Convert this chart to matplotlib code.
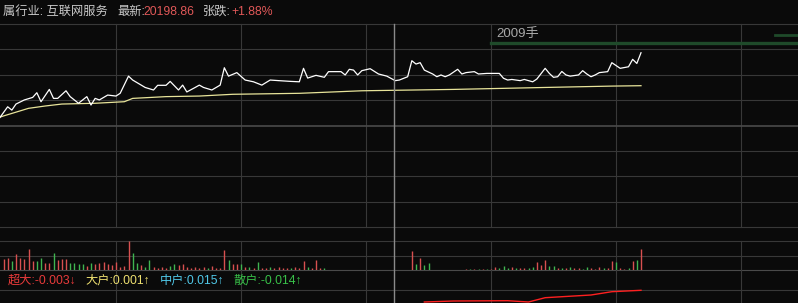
import matplotlib.pyplot as plt
import matplotlib.transforms as mtransforms
from matplotlib.lines import Line2D

plt.rcParams['font.family'] = ['Liberation Sans', 'Noto Sans CJK SC', 'DejaVu Sans']

# ---- data ----
industry = '互联网服务'
last_price = 20198.86
change_text = '+1.88%'
prev_close = 19826.1

price_minutes = [2, 4, 5, 6, 8, 10, 11, 12, 14, 15, 16, 18, 19, 21, 23, 24, 25, 26, 28, 30,
                 31, 33, 34, 37, 39, 40, 42, 43, 45, 46, 47, 49, 50, 51, 53, 55, 56, 57, 59, 61,
                 63, 65, 67, 69, 72, 74, 75, 76, 78, 80, 81, 84, 85, 86, 87, 88, 89, 91, 93, 95,
                 97, 98, 100, 101, 102, 103, 104, 106, 107, 108, 109, 110, 112, 113, 114, 116, 117, 119, 122, 123,
                 124, 125, 127, 128, 130, 131, 133, 134, 135, 136, 137, 138, 139, 141, 142, 143, 144, 145, 146, 148,
                 149, 151, 153, 154, 155, 156]
price_values = [19863, 19922, 19905, 19936, 19957, 19970, 19994, 19948, 20011, 19965,
                19965, 20004, 19974, 19940, 19974, 19931, 19965, 19957, 19982, 19977,
                19991, 20079, 20059, 20021, 20008, 20032, 20032, 20052, 20008, 20033,
                19998, 20021, 20033, 20021, 20008, 20033, 20122, 20079, 20097, 20059,
                20050, 20033, 20059, 20056, 20052, 20050, 20119, 20069, 20083, 20073,
                20102, 20102, 20085, 20114, 20110, 20085, 20107, 20117, 20090, 20079,
                20056, 20059, 20076, 20158, 20141, 20148, 20110, 20090, 20076, 20085,
                20076, 20085, 20114, 20090, 20097, 20102, 20090, 20093, 20093, 20068,
                20059, 20062, 20056, 20062, 20050, 20064, 20119, 20093, 20073, 20076,
                20103, 20085, 20079, 20085, 20107, 20090, 20076, 20085, 20097, 20102,
                20148, 20119, 20127, 20165, 20144, 20198.86]

avg_minutes = [2, 3, 5, 9, 13, 17, 25, 32, 34, 42, 50, 58, 74, 89, 111, 133, 149, 156]
avg_values = [19868, 19875, 19888, 19914, 19926, 19936, 19940, 19948, 19965, 19974,
              19977, 19986, 19991, 20004, 20011, 20021, 20028, 20030]

vol_minutes = list(range(3, 81)) + list(range(101, 106)) + list(range(114, 157))
volumes = [34, 37, 27, 47, 37, 32, 62, 27, 27, 37, 22, 22, 50, 30, 34, 34, 22, 20, 17, 17,
           12, 22, 17, 20, 24, 19, 14, 24, 10, 12, 87, 50, 22, 14, 10, 30, 10, 7,
           10, 7, 12, 17, 14, 17, 10, 7, 10, 5, 10, 7, 12, 7, 7, 60, 30, 17, 17, 17,
           10, 10, 7, 24, 7, 7, 10, 7, 10, 7, 7, 7, 10, 7, 27, 10, 7, 30, 5, 7,
           57, 17, 37, 14, 22,
           4, 4, 4, 4,
           4, 4, 4, 10, 7, 12, 7, 10, 7, 7, 7, 7, 10, 24, 14, 30, 12, 12, 7, 7,
           7, 10, 7, 7, 4, 10, 7, 4, 10, 7, 7, 27, 24, 7, 4, 7, 27, 30, 64]
vol_dirs = ('rrgrrrrrggrrgrrrggggrgrrrrrrrrrggrggrr'
            'rrggrrrrrrrgrrrrgrrgrgrgrrgrrrrgrrrgrrrg'
            'rgrgg'
            'rgrg'
            'rgrrgggrgrrggrrrggrgrgrrggrrrgrrgrrgrgr')

flow_minutes = [104, 111, 124, 129, 133, 144, 149, 156]
flow_values = [-12, -11, -10.7, -12, -7.7, -5, -1.7, -0.3]

flow_labels = ['超大', '大户', '中户', '散户']
flow_numbers = ['-0.003', '0.001', '0.015', '-0.014']
flow_arrows = ['↓', '↑', '↑', '↑']
flow_colors = ['#e83a3a', '#eee070', '#50c8e8', '#38c048']

order_text = '2009手'
cursor_minute = 96.8

# ---- style ----
BG = '#0a0a0a'
GRID = '#383838'
RED = '#d85050'
GREEN = '#40b450'
W, H = 798, 303
px_per_min = 125 / 30


def box(top, bottom):
    return [0, 1 - bottom / H, 1, (bottom - top) / H]


x_left = 9 / px_per_min
x_right = (W + 9) / px_per_min
step = 130

fig = plt.figure(figsize=(W / 100, H / 100), dpi=100, facecolor=BG)

ax = fig.add_axes(box(24, 227))
ax_vol = fig.add_axes(box(241, 270))
ax_flow = fig.add_axes(box(270, 303))
for a in (ax, ax_vol, ax_flow):
    a.set_facecolor(BG)
    a.set_xlim(x_left, x_right)
    a.axis('off')
    for m in range(30, 200, 30):
        a.axvline(m, color=GRID, lw=0.8, clip_on=False, zorder=0)

# price panel
ax.set_ylim(prev_close - 4 * step, prev_close + 4 * step)
for k in range(-4, 5):
    ax.axhline(prev_close + k * step, color='#4a4a4a' if k == 0 else GRID,
               lw=1.2 if k == 0 else 0.8, clip_on=False, zorder=0)
ax.plot(avg_minutes, avg_values, color='#e8e49a', lw=0.9, zorder=3)
ax.plot(price_minutes, price_values, color='white', lw=0.9, zorder=4)

# order book bar at top right
tr = mtransforms.blended_transform_factory(ax.transData, ax.transAxes)
ax.plot([120, x_right], [0.904, 0.904], color='#1f4a2a', lw=2.4, transform=tr, clip_on=False)
ax.plot([188.2, x_right], [0.948, 0.948], color='#1f4a2a', lw=2.0, transform=tr, clip_on=False)
ax.text(121.3, 0.951, order_text, transform=tr, color='#a8a8a8', fontsize=9.5,
        va='center', ha='left')

# volume panel
vmax = max(volumes)
ax_vol.set_ylim(0, vmax)
for y in (0, vmax / 2, vmax):
    ax_vol.axhline(y, color='#4a4a4a' if y == 0 else GRID, lw=0.8, clip_on=False, zorder=0)
ax_vol.vlines(vol_minutes, 0, volumes,
              colors=[RED if d == 'r' else GREEN for d in vol_dirs], lw=1.0)

# money flow panel
ax_flow.set_ylim(-13, 20)
ax_flow.axhline(0, color=GRID, lw=0.8, zorder=0)
ax_flow.plot(flow_minutes, flow_values, color='#ff2020', lw=1.0)

# cursor
ct = mtransforms.blended_transform_factory(ax.transData, fig.transFigure)
fig.add_artist(Line2D([cursor_minute, cursor_minute], [0, 1 - 24 / H],
                      transform=ct, color='#8a8a8a', lw=1.0))

# header
fs = 8.8
y_head = 1 - 12 / H
fig.text(3 / W, y_head, '属行业: ' + industry, color='#c8c8c8', fontsize=fs, va='center')
fig.text(117 / W, y_head, '最新:', color='#c8c8c8', fontsize=fs, va='center')
fig.text(143 / W, y_head, f'{last_price:.2f}', color='#e05858', fontsize=fs, va='center')
fig.text(203 / W, y_head, '张跌:', color='#c8c8c8', fontsize=fs, va='center')
fig.text(231 / W, y_head, change_text, color='#e05858', fontsize=fs, va='center')

# flow labels
y_lab = 1 - 281 / H
for x0, lab, num, arr, c in zip([8, 85, 160, 233], flow_labels, flow_numbers, flow_arrows, flow_colors):
    fig.text(x0 / W, y_lab, f'{lab}:{num}{arr}', color=c, fontsize=fs, va='center')

fig.savefig('out.png', dpi=100, facecolor=BG)
